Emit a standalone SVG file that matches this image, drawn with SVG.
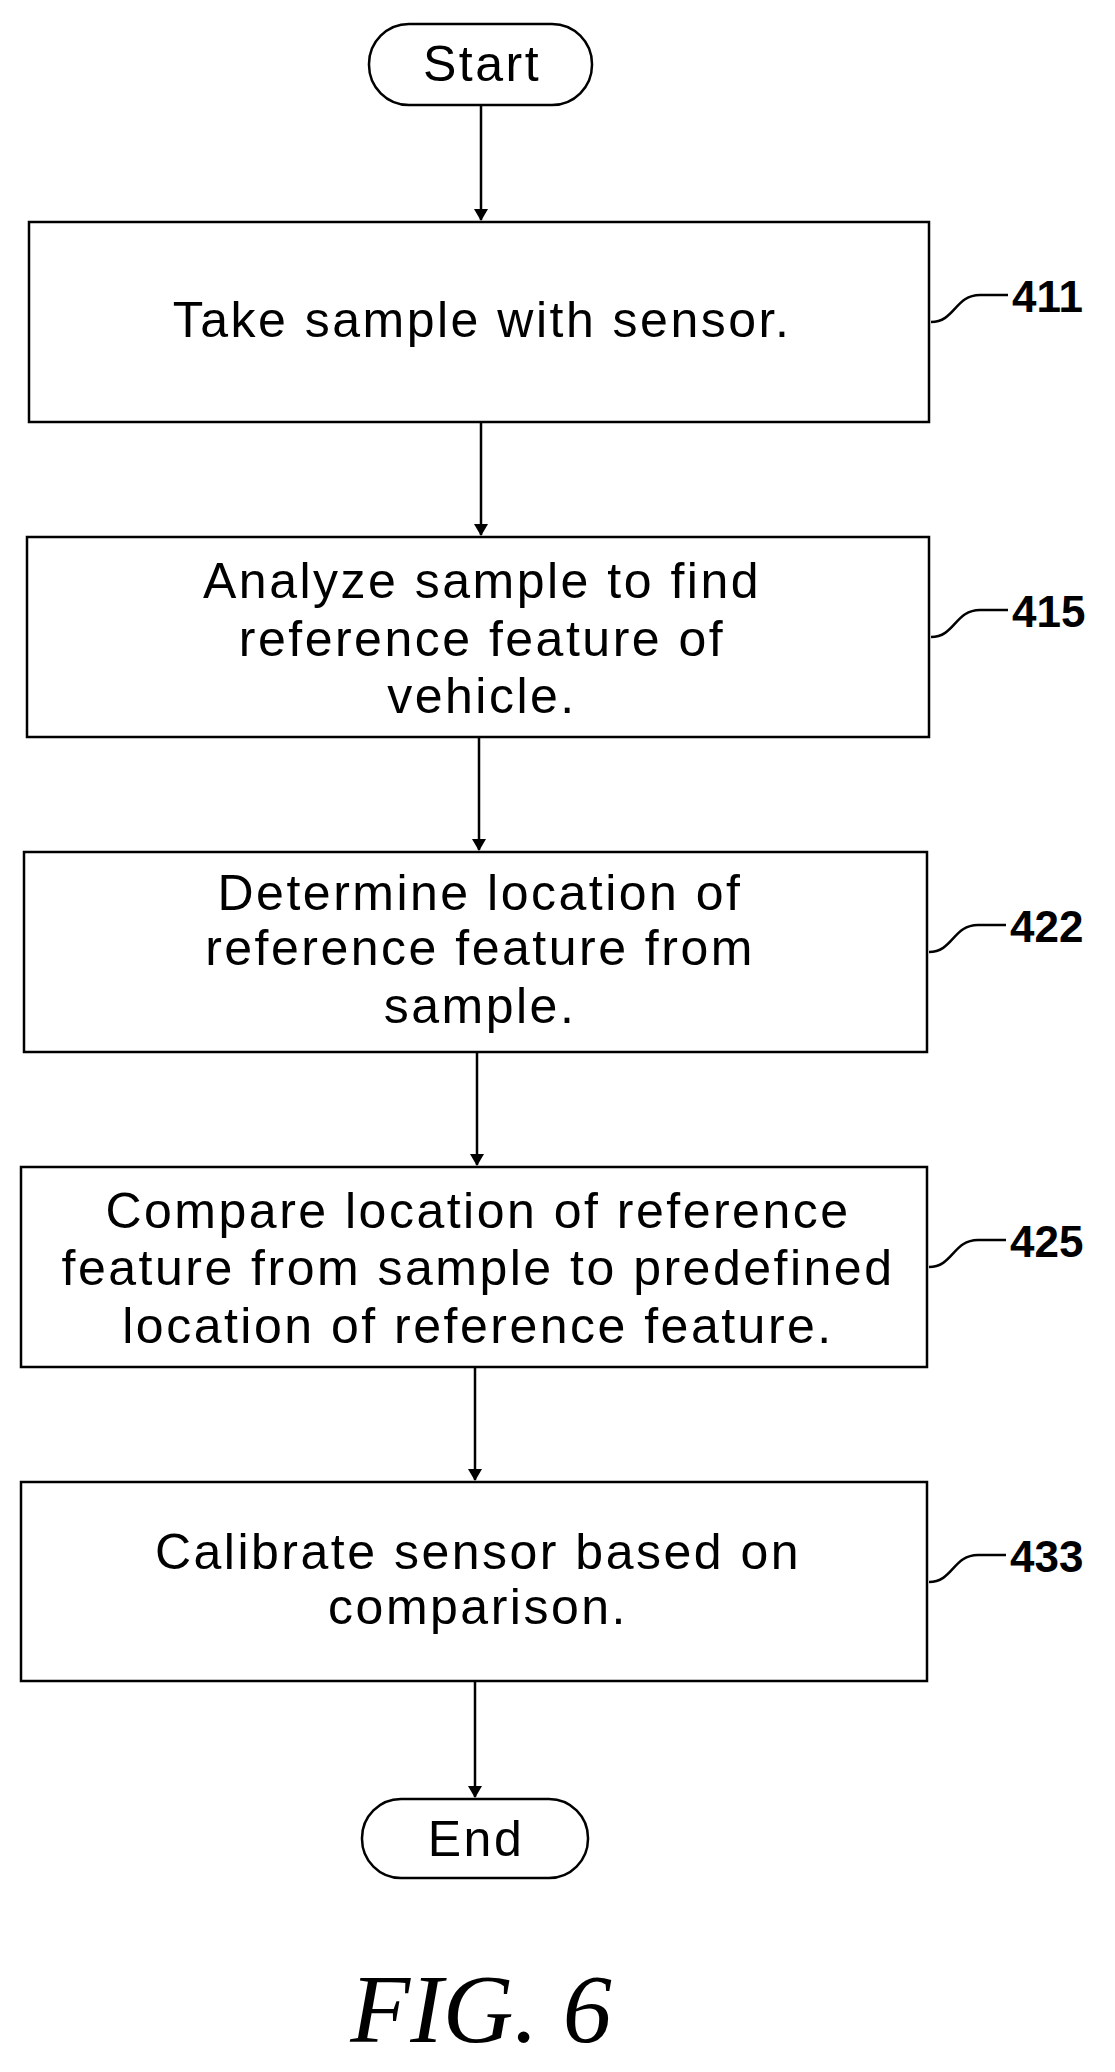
<svg xmlns="http://www.w3.org/2000/svg" width="1115" height="2072" viewBox="0 0 1115 2072">
<defs>
<style>
.b{fill:#fff;stroke:#000;stroke-width:2.5}
.t{font-family:"Liberation Sans",Arial,sans-serif;font-size:50px;letter-spacing:2.5px;text-anchor:middle;fill:#000}
.n{font-family:"Liberation Sans",Arial,sans-serif;font-size:44px;font-weight:bold;fill:#000}
.l{fill:none;stroke:#000;stroke-width:2.5}
</style>
<marker id="a" markerWidth="12" markerHeight="14" refX="11" refY="7" orient="auto" markerUnits="userSpaceOnUse"><path d="M0,0 L12,7 L0,14 Z" fill="#000"/></marker>
</defs>
<rect width="1115" height="2072" fill="#fff"/>
<g id="start"><rect class="b" x="369" y="24" width="223" height="81" rx="40"/><text class="t" x="482" y="81">Start</text></g>
<g id="n411"><rect class="b" x="29" y="222" width="900" height="200"/><text class="t" x="482" y="337">Take sample with sensor.</text>
<path class="l" d="M931 322 C955 322 955 295 980 295 L1008 295"/><text class="n" x="1012" y="312">411</text></g>
<g id="n415"><rect class="b" x="27" y="537" width="902" height="200"/><text class="t" x="482" y="598">Analyze sample to find</text><text class="t" x="482" y="656">reference feature of</text><text class="t" x="482" y="713">vehicle.</text>
<path class="l" d="M931 637 C955 637 955 610 980 610 L1008 610"/><text class="n" x="1012" y="627">415</text></g>
<g id="n422"><rect class="b" x="24" y="852" width="903" height="200"/><text class="t" x="480" y="910">Determine location of</text><text class="t" x="480" y="965">reference feature from</text><text class="t" x="480" y="1023">sample.</text>
<path class="l" d="M929 952 C953 952 953 925 978 925 L1006 925"/><text class="n" x="1010" y="942">422</text></g>
<g id="n425"><rect class="b" x="21" y="1167" width="906" height="200"/><text class="t" x="478" y="1228">Compare location of reference</text><text class="t" x="478" y="1285">feature from sample to predefined</text><text class="t" x="478" y="1343">location of reference feature.</text>
<path class="l" d="M929 1267 C953 1267 953 1240 978 1240 L1006 1240"/><text class="n" x="1010" y="1257">425</text></g>
<g id="n433"><rect class="b" x="21" y="1482" width="906" height="199"/><text class="t" x="478" y="1569">Calibrate sensor based on</text><text class="t" x="478" y="1624">comparison.</text>
<path class="l" d="M929 1582 C953 1582 953 1555 978 1555 L1006 1555"/><text class="n" x="1010" y="1572">433</text></g>
<g id="end"><rect class="b" x="362" y="1799" width="226" height="79" rx="39"/><text class="t" x="476" y="1856">End</text></g>
<g id="connectors">
<line class="l" x1="481" y1="105" x2="481" y2="220" marker-end="url(#a)"/>
<line class="l" x1="481" y1="422" x2="481" y2="535" marker-end="url(#a)"/>
<line class="l" x1="479" y1="737" x2="479" y2="850" marker-end="url(#a)"/>
<line class="l" x1="477" y1="1052" x2="477" y2="1165" marker-end="url(#a)"/>
<line class="l" x1="475" y1="1367" x2="475" y2="1480" marker-end="url(#a)"/>
<line class="l" x1="475" y1="1681" x2="475" y2="1797" marker-end="url(#a)"/>
</g>
<text x="481" y="2042" font-family="Liberation Serif,serif" font-style="italic" font-size="98" text-anchor="middle">FIG. 6</text>
</svg>
